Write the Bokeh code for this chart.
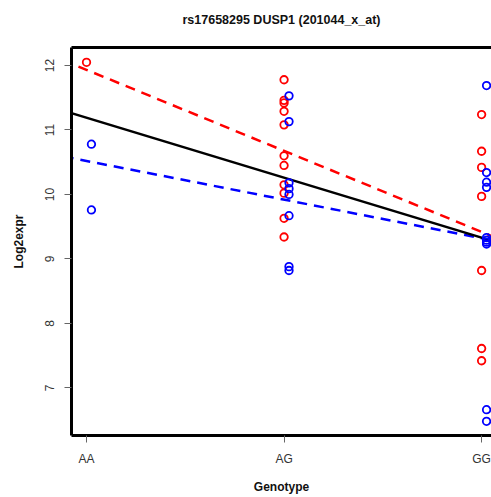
import numpy as np
from bokeh.plotting import figure
from bokeh.models import Range1d, FixedTicker, LinearAxis
from bokeh.embed import file_html
from bokeh.resources import INLINE

# ---- data ----
title_text = "rs17658295 DUSP1 (201044_x_at)"
genotypes = ["AA", "AG", "GG"]
genotype_pos = [1, 2, 3]

red_group = [1,
             2, 2, 2, 2, 2, 2, 2, 2, 2, 2, 2,
             3, 3, 3, 3, 3, 3, 3]
red_values = [12.05,
              11.78, 11.46, 11.42, 11.29, 11.08, 10.60, 10.45, 10.15, 10.02, 9.63, 9.34,
              11.24, 10.67, 10.42, 9.97, 8.82, 7.61, 7.42]

blue_group = [1, 1,
              2, 2, 2, 2, 2, 2, 2, 2,
              3, 3, 3, 3, 3, 3, 3, 3, 3, 3]
blue_values = [10.78, 9.76,
               11.53, 11.13, 10.18, 10.09, 10.00, 9.67, 8.88, 8.82,
               11.69, 10.34, 10.19, 10.11, 9.33, 9.29, 9.26, 9.23, 6.66, 6.48]

# regression lines: [intercept, slope]
fit_all = [12.12, -0.93]
fit_red = [13.19, -1.257]
fit_blue = [11.12, -0.60]

yticks = [7, 8, 9, 10, 11, 12]

# ---- figure ----
x0, x1 = 0.924, 3.05
y0, y1 = 6.26, 12.28
p = figure(width=491, height=497, output_backend="svg", toolbar_location=None,
           x_range=Range1d(x0, x1), y_range=Range1d(y0, y1),
           min_border_left=71, min_border_right=0, min_border_top=47,
           min_border_bottom=62)
p.background_fill_color = "white"
p.border_fill_color = "white"
p.outline_line_color = None
p.grid.visible = False

for ax in (p.xaxis[0], p.yaxis[0]):
    ax.axis_line_width = 3
    ax.axis_line_color = "black"
    ax.major_tick_in = 0
    ax.major_tick_out = 7
    ax.major_tick_line_color = "#666666"
    ax.major_tick_line_width = 1
    ax.minor_tick_line_color = None
    ax.major_label_text_font = "Liberation Sans"
    ax.major_label_text_font_size = "12px"
    ax.major_label_text_color = "#333333"
    ax.major_label_standoff = 10
    ax.axis_label_text_font = "Liberation Sans"
    ax.axis_label_text_font_size = "12px"
    ax.axis_label_text_font_style = "bold"
    ax.axis_label_text_color = "#111111"

p.xaxis[0].major_label_standoff = 9
p.xaxis[0].axis_label_standoff = 11
p.yaxis[0].axis_label_standoff = 17

p.xaxis[0].ticker = FixedTicker(ticks=genotype_pos)
p.xaxis[0].major_label_overrides = {pos: g for pos, g in zip(genotype_pos, genotypes)}
p.xaxis[0].axis_label = "Genotype"
p.yaxis[0].ticker = FixedTicker(ticks=yticks)
p.yaxis[0].major_label_orientation = "vertical"
p.yaxis[0].axis_label = "Log2expr"

# top border line of the box, carrying the chart title as its label
top = LinearAxis(ticker=FixedTicker(ticks=[]), axis_line_width=3, axis_line_color="black",
                 major_tick_out=0, major_tick_in=0, minor_tick_out=0, minor_tick_in=0,
                 major_label_text_color=None, axis_label=title_text,
                 axis_label_standoff=21, axis_label_text_font="Liberation Sans",
                 axis_label_text_font_size="12.5px", axis_label_text_font_style="bold",
                 axis_label_text_color="#111111")
p.add_layout(top, "above")

# ---- lines ----
xs = np.array([0.8, 3.2])
p.line(xs, fit_red[0] + fit_red[1] * xs, line_color="#ff0000", line_width=2.5, line_dash="10 7")
p.line(xs, fit_blue[0] + fit_blue[1] * xs, line_color="#0000ff", line_width=2.5, line_dash="10 7")
p.line(xs, fit_all[0] + fit_all[1] * xs, line_color="black", line_width=2.5)

# ---- points ----
blue_dx = 0.025
p.scatter(np.array(red_group, dtype=float), red_values, marker="circle", size=7.5,
          fill_color=None, line_color="#ff0000", line_width=1.8)
p.scatter(np.array(blue_group, dtype=float) + blue_dx, blue_values, marker="circle", size=7.5,
          fill_color=None, line_color="#0000ff", line_width=1.8)

open("out.html", "w").write(file_html(p, INLINE))
